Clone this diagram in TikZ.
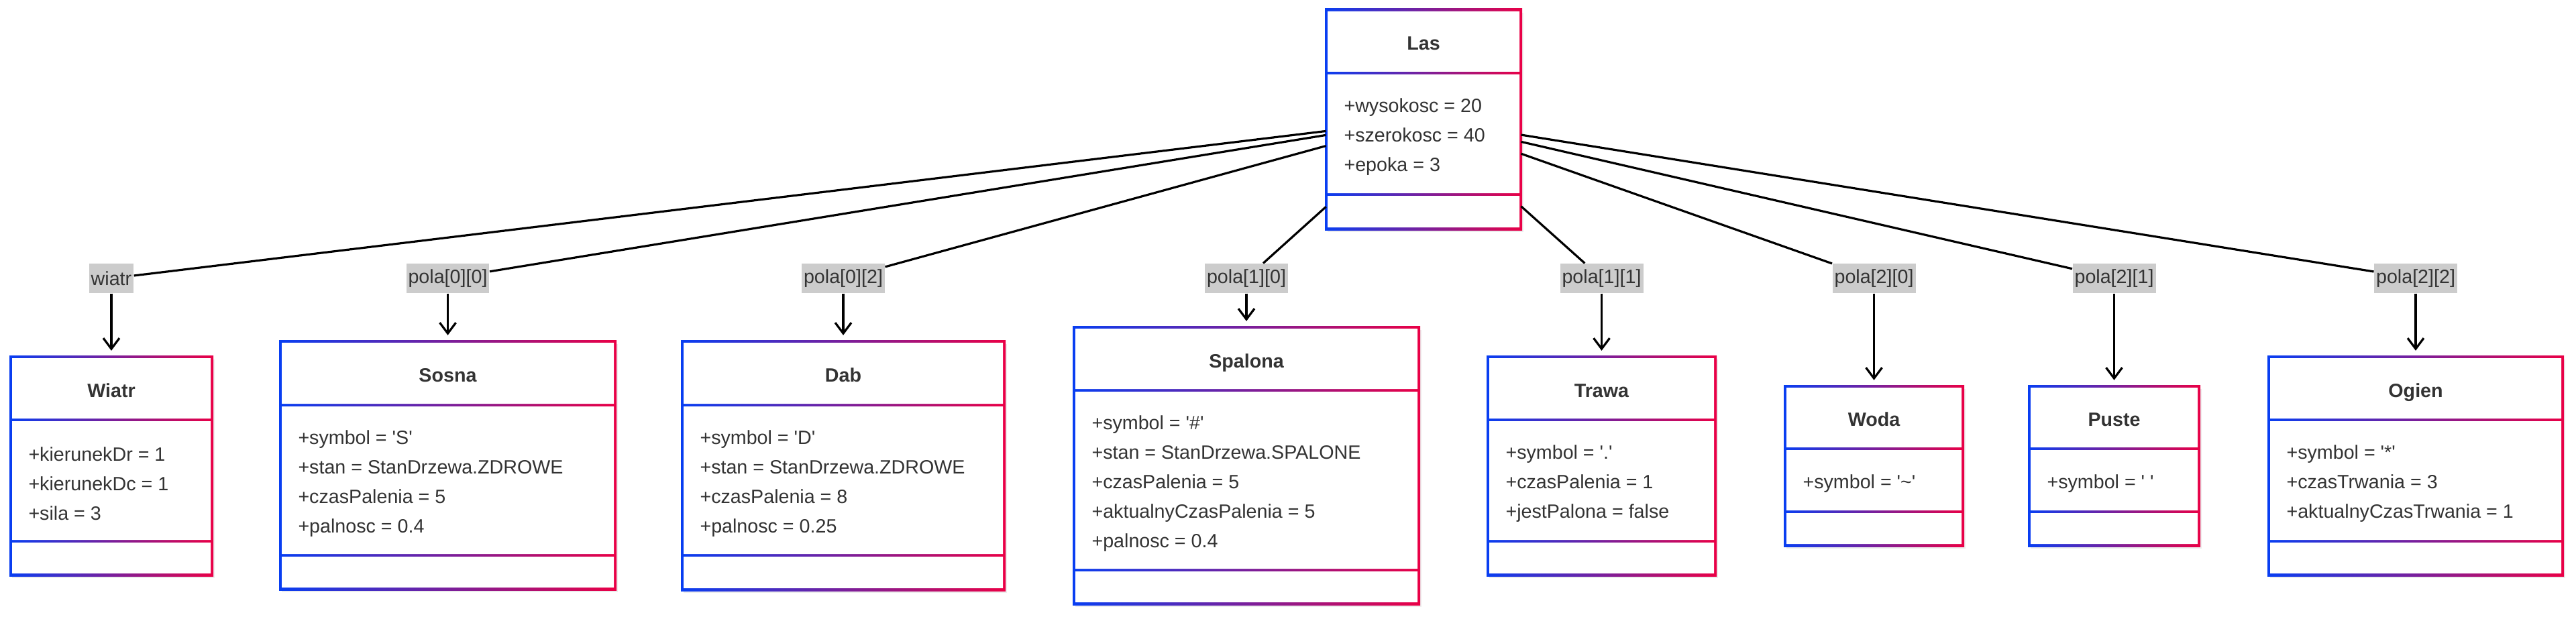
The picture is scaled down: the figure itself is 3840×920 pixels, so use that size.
\documentclass[tikz,border=0pt]{standalone}
\usepackage{fontspec}
\setmainfont{Liberation Sans}
\usetikzlibrary{arrows.meta,fit}

\definecolor{clsblue}{RGB}{8,62,242}
\definecolor{clsred}{RGB}{234,0,70}
\definecolor{clstext}{RGB}{51,51,51}
\definecolor{lblgray}{RGB}{204,204,204}

\newcommand{\sq}{\textquotesingle}

\tikzset{every picture/.style={line width=0.75pt}}
\tikzset{
  clsnode/.style={inner sep=0pt, draw=none},
  clsgrad/.style={left color=clsblue, right color=clsred},
  clsshadow/.style={fill=black, opacity=0.07},
  clstitle/.style={anchor=base, inner sep=0pt, text=clstext, font=\fontsize{21.5}{33}\selectfont\bfseries},
  clsattr/.style={anchor=west, align=left, inner sep=0pt, text=clstext, font=\fontsize{21.5}{33}\selectfont},
  edgelbl/.style={fill=lblgray, text=clstext, inner xsep=2.25pt, inner ysep=0pt, minimum height=33pt, font=\fontsize{21.5}{33}\selectfont},
  assoc/.style={draw=black, line width=2.4pt},
  assocarr/.style={assoc, -{Straight Barb[length=12pt,width=18pt]}, shorten >=6.5pt}
}

\begin{document}
\begin{tikzpicture}[x=0.75pt,y=0.75pt,yscale=-1,xscale=1]
%set diagram left start at 0, and has height of 920
\useasboundingbox (0,0) rectangle (3840,920);

%Shape: Class Box [Las]
\fill[clsshadow] (1979,19) rectangle (2271,346);
\shade[clsgrad] (1975,13) rectangle (2269,343);
\fill[white] (1979,17) rectangle (2265,107) (1979,111) rectangle (2265,288) (1979,292) rectangle (2265,339);
\node[clsnode, fit={(1977,15) (2267,341)}] (las) {};
\node[clstitle] at (2122,75) {Las};
\node[clsattr] at (2003,204.5) {+wysokosc = 20\\+szerokosc = 40\\+epoka = 3};

%Shape: Class Box [Wiatr]
\fill[clsshadow] (18,536) rectangle (320,862);
\shade[clsgrad] (14,530) rectangle (318,859);
\fill[white] (18,534) rectangle (314,624) (18,628) rectangle (314,805) (18,809) rectangle (314,855);
\node[clsnode, fit={(16,532) (316,857)}] (wiatr) {};
\node[clstitle] at (166,592) {Wiatr};
\node[clsattr] at (42,721.5) {+kierunekDr = 1\\+kierunekDc = 1\\+sila = 3};

%Shape: Class Box [Sosna]
\fill[clsshadow] (420,513) rectangle (921,883);
\shade[clsgrad] (416,507) rectangle (919,880);
\fill[white] (420,511) rectangle (915,602) (420,606) rectangle (915,826) (420,830) rectangle (915,876);
\node[clsnode, fit={(418,509) (917,878)}] (sosna) {};
\node[clstitle] at (667.5,569.5) {Sosna};
\node[clsattr] at (444,721) {+symbol = \sq S\sq\\+stan = StanDrzewa.ZDROWE\\+czasPalenia = 5\\+palnosc = 0.4};

%Shape: Class Box [Dab]
\fill[clsshadow] (1019,513) rectangle (1501,884);
\shade[clsgrad] (1015,507) rectangle (1499,881);
\fill[white] (1019,511) rectangle (1495,602) (1019,606) rectangle (1495,826) (1019,830) rectangle (1495,877);
\node[clsnode, fit={(1017,509) (1497,879)}] (dab) {};
\node[clstitle] at (1257,569.5) {Dab};
\node[clsattr] at (1043,721) {+symbol = \sq D\sq\\+stan = StanDrzewa.ZDROWE\\+czasPalenia = 8\\+palnosc = 0.25};

%Shape: Class Box [Spalona]
\fill[clsshadow] (1603,492) rectangle (2119,905);
\shade[clsgrad] (1599,486) rectangle (2117,902);
\fill[white] (1603,490) rectangle (2113,580) (1603,584) rectangle (2113,848) (1603,852) rectangle (2113,898);
\node[clsnode, fit={(1601,488) (2115,900)}] (spalona) {};
\node[clstitle] at (1858,548) {Spalona};
\node[clsattr] at (1627,721) {+symbol = \sq\#\sq\\+stan = StanDrzewa.SPALONE\\+czasPalenia = 5\\+aktualnyCzasPalenia = 5\\+palnosc = 0.4};

%Shape: Class Box [Trawa]
\fill[clsshadow] (2220,536) rectangle (2561,862);
\shade[clsgrad] (2216,530) rectangle (2559,859);
\fill[white] (2220,534) rectangle (2555,624) (2220,628) rectangle (2555,805) (2220,809) rectangle (2555,855);
\node[clsnode, fit={(2218,532) (2557,857)}] (trawa) {};
\node[clstitle] at (2387.5,592) {Trawa};
\node[clsattr] at (2244,721.5) {+symbol = \sq.\sq\\+czasPalenia = 1\\+jestPalona = false};

%Shape: Class Box [Woda]
\fill[clsshadow] (2663,580) rectangle (2930,818);
\shade[clsgrad] (2659,574) rectangle (2928,815);
\fill[white] (2663,578) rectangle (2924,667) (2663,671) rectangle (2924,761) (2663,765) rectangle (2924,811);
\node[clsnode, fit={(2661,576) (2926,813)}] (woda) {};
\node[clstitle] at (2793.5,635.5) {Woda};
\node[clsattr] at (2687,721) {+symbol = \sq\textasciitilde\sq};

%Shape: Class Box [Puste]
\fill[clsshadow] (3027,580) rectangle (3282,818);
\shade[clsgrad] (3023,574) rectangle (3280,815);
\fill[white] (3027,578) rectangle (3276,667) (3027,671) rectangle (3276,761) (3027,765) rectangle (3276,811);
\node[clsnode, fit={(3025,576) (3278,813)}] (puste) {};
\node[clstitle] at (3151.5,635.5) {Puste};
\node[clsattr] at (3051,721) {+symbol = \sq\ \sq};

%Shape: Class Box [Ogien]
\fill[clsshadow] (3384,536) rectangle (3824,862);
\shade[clsgrad] (3380,530) rectangle (3822,859);
\fill[white] (3384,534) rectangle (3818,624) (3384,628) rectangle (3818,805) (3384,809) rectangle (3818,855);
\node[clsnode, fit={(3382,532) (3820,857)}] (ogien) {};
\node[clstitle] at (3601,592) {Ogien};
\node[clsattr] at (3408,721.5) {+symbol = \sq*\sq\\+czasTrwania = 3\\+aktualnyCzasTrwania = 1};

%Edge labels
\node[edgelbl] (lblwiatr) at (166,415) {wiatr};
\node[edgelbl] (lblsosna) at (667.5,415) {pola[0][0]};
\node[edgelbl] (lbldab) at (1257,415) {pola[0][2]};
\node[edgelbl] (lblspalona) at (1858,415) {pola[1][0]};
\node[edgelbl] (lbltrawa) at (2387.5,415) {pola[1][1]};
\node[edgelbl] (lblwoda) at (2793.5,415) {pola[2][0]};
\node[edgelbl] (lblpuste) at (3151.5,415) {pola[2][1]};
\node[edgelbl] (lblogien) at (3601,415) {pola[2][2]};

%Straight Lines
\draw[assoc] (las) -- (lblwiatr);
\draw[assocarr] (lblwiatr) -- (wiatr);
%Straight Lines
\draw[assoc] (las) -- (lblsosna);
\draw[assocarr] (lblsosna) -- (sosna);
%Straight Lines
\draw[assoc] (las) -- (lbldab);
\draw[assocarr] (lbldab) -- (dab);
%Straight Lines
\draw[assoc] (las) -- (lblspalona);
\draw[assocarr] (lblspalona) -- (spalona);
%Straight Lines
\draw[assoc] (las) -- (lbltrawa);
\draw[assocarr] (lbltrawa) -- (trawa);
%Straight Lines
\draw[assoc] (las) -- (lblwoda);
\draw[assocarr] (lblwoda) -- (woda);
%Straight Lines
\draw[assoc] (las) -- (lblpuste);
\draw[assocarr] (lblpuste) -- (puste);
%Straight Lines
\draw[assoc] (las) -- (lblogien);
\draw[assocarr] (lblogien) -- (ogien);

\end{tikzpicture}
\end{document}
